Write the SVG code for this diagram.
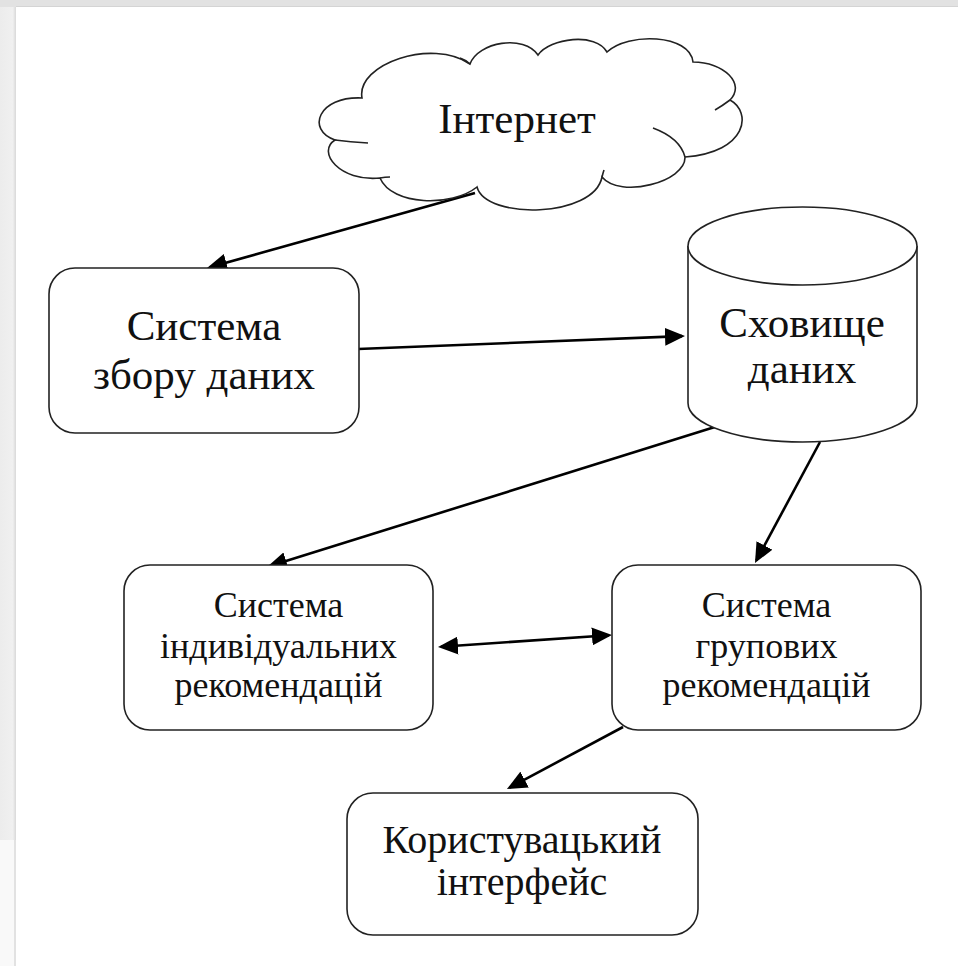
<svg xmlns="http://www.w3.org/2000/svg" width="958" height="966" viewBox="0 0 958 966">
<defs>
<style>
.shape{fill:#fff;stroke:#222;stroke-width:1.6}
.hook{fill:none;stroke:#222;stroke-width:1.6}
.big{font-family:"Liberation Serif","DejaVu Serif",serif;font-size:43px;fill:#111;text-anchor:middle}
.ui{font-family:"Liberation Serif","DejaVu Serif",serif;font-size:40px;fill:#111;text-anchor:middle}
.small{font-family:"Liberation Serif","DejaVu Serif",serif;font-size:36px;fill:#111;text-anchor:middle}
.conn{fill:none;stroke:#000;stroke-width:2.6}
</style>
<marker id="ah" viewBox="0 0 20 18" refX="17" refY="9" markerWidth="20" markerHeight="18" markerUnits="userSpaceOnUse" orient="auto-start-reverse">
<path d="M0,0 L20,9 L0,18 z" fill="#000"/>
</marker>
<linearGradient id="lg" x1="0" y1="0" x2="1" y2="0">
<stop offset="0" stop-color="#ececec"/>
<stop offset="0.8" stop-color="#f0f0f0"/>
<stop offset="1" stop-color="#d8d8d8"/>
</linearGradient>
</defs>
<rect x="0" y="0" width="958" height="966" fill="#fff"/>
<rect x="0" y="0" width="16" height="840" fill="url(#lg)"/>
<rect x="0" y="840" width="16" height="126" fill="#f9f9f9"/>
<rect x="14" y="840" width="2" height="126" fill="#e2e2e2"/>
<rect x="0" y="0" width="958" height="7" fill="#e2e2e2"/>
<rect x="16" y="6" width="942" height="1" fill="#d4d4d4"/>

<g id="connectors">
<line class="conn" x1="475" y1="193" x2="209.9" y2="267.2" marker-end="url(#ah)"/>
<line class="conn" x1="358" y1="349" x2="682" y2="336.1" marker-end="url(#ah)"/>
<line class="conn" x1="718" y1="426" x2="269.9" y2="566.1" marker-end="url(#ah)"/>
<line class="conn" x1="820" y1="442" x2="756.4" y2="560.4" marker-end="url(#ah)"/>
<line class="conn" x1="441" y1="646.8" x2="609" y2="635.2" marker-start="url(#ah)" marker-end="url(#ah)"/>
<line class="conn" x1="623" y1="727" x2="509.6" y2="787.6" marker-end="url(#ah)"/>
</g>

<g id="internet">
<path class="shape" d="M362,98 C356,64 432,38 470,64 C478,42 524,34 538,55 C550,38 596,32 607,52 C628,32 690,34 693,62 C724,62 746,84 730,100 C752,112 748,152 685,157 C686,182 620,199 602,177 C594,218 486,220 477,187 C452,207 392,206 380,178 C340,182 316,152 335,140 C306,130 318,96 362,98 z"/>
<path class="hook" d="M730,100 Q722,106 715,110"/>
<path class="hook" d="M653,128 Q680,138 685,157"/>
<path class="hook" d="M335,140 Q350,142 368,143"/>
<path class="hook" d="M380,178 Q385,177 390,177"/>
<path class="hook" d="M470,64 Q466,60 460,58"/>
<path class="hook" d="M602,177 Q603,173 604,170"/>
<text class="big" x="517" y="133">Інтернет</text>
</g>

<g id="collect">
<rect class="shape" x="49" y="268" width="310" height="165" rx="26" ry="26"/>
<text class="big" x="204" y="340">Система</text>
<text class="big" x="204" y="389">збору даних</text>
</g>

<g id="storage">
<path class="shape" d="M688,246 L688,403 A114.5,39 0 0 0 917,403 L917,246"/>
<ellipse class="shape" cx="802.5" cy="246" rx="114.5" ry="39"/>
<text class="big" x="802" y="337">Сховище</text>
<text class="big" x="802" y="383">даних</text>
</g>

<g id="individual">
<rect class="shape" x="124" y="565" width="309" height="165" rx="26" ry="26"/>
<text class="small" x="278.5" y="617">Система</text>
<text class="small" x="278.5" y="658">індивідуальних</text>
<text class="small" x="278.5" y="697">рекомендацій</text>
</g>

<g id="group">
<rect class="shape" x="612" y="565" width="309" height="165" rx="26" ry="26"/>
<text class="small" x="766.5" y="617">Система</text>
<text class="small" x="766.5" y="658">групових</text>
<text class="small" x="766.5" y="697">рекомендацій</text>
</g>

<g id="ui">
<rect class="shape" x="347" y="793" width="351" height="142" rx="26" ry="26"/>
<text class="ui" x="522" y="853">Користувацький</text>
<text class="ui" x="522" y="895">інтерфейс</text>
</g>
</svg>
